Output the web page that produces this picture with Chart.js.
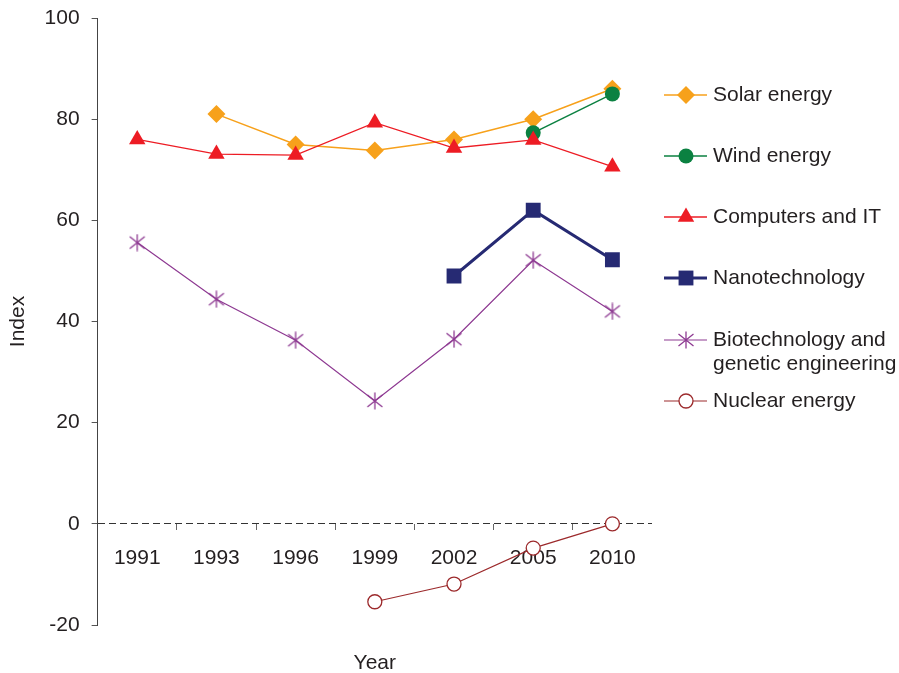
<!DOCTYPE html>
<html>
<head>
<meta charset="utf-8">
<script src="https://cdn.jsdelivr.net/npm/chart.js@4.4.1/dist/chart.umd.min.js"></script>
<style>
  html, body { margin: 0; padding: 0; background: #ffffff; }
  #wrap { width: 899px; height: 673px; }
</style>
</head>
<body>
<div id="wrap"><canvas id="c" width="899" height="673"></canvas></div>
<script>
// ---- data ----
const categories = ['1991', '1993', '1996', '1999', '2002', '2005', '2010'];
const solarEnergy = [null, 81.0, 75.0, 73.8, 76.0, 80.0, 86.0];
const windEnergy = [null, null, null, null, null, 77.3, 85.0];
const computersIT = [76.0, 73.1, 72.9, 79.3, 74.3, 75.9, 70.6];
const nanotechnology = [null, null, null, null, 49.0, 62.0, 52.2];
const biotechnology = [55.6, 44.4, 36.3, 24.3, 36.5, 52.1, 42.0];
const nuclearEnergy = [null, null, null, -15.4, -11.9, -4.8, 0.0];
const seriesNames = ['Solar energy', 'Wind energy', 'Computers and IT', 'Nanotechnology',
  'Biotechnology and\ngenetic engineering', 'Nuclear energy'];
const yTicks = [-20, 0, 20, 40, 60, 80, 100];

const FONT = "'Liberation Sans', Arial, sans-serif";
const FS = 21;
const TXT = '#231F20';

// asterisk marker (vertical stroke + two diagonals)
function makeAsterisk(color) {
  const c = document.createElement('canvas');
  c.width = 18; c.height = 18;
  const g = c.getContext('2d');
  g.strokeStyle = color; g.lineWidth = 1.3;
  g.beginPath();
  g.moveTo(9, 0.5); g.lineTo(9, 17.5);
  g.moveTo(1.5, 3); g.lineTo(16.5, 15);
  g.moveTo(16.5, 3); g.lineTo(1.5, 15);
  g.stroke();
  return c;
}
const bioColor = '#8E3A92';
const asterisk = makeAsterisk(bioColor);

const datasets = [
  { label: seriesNames[0], data: solarEnergy, borderColor: '#F7A11B', backgroundColor: '#F7A11B',
    borderWidth: 1.5, pointStyle: 'rectRot', pointRadius: 9, pointBorderWidth: 0, order: 6 },
  { label: seriesNames[1], data: windEnergy, borderColor: '#0B8141', backgroundColor: '#0B8141',
    borderWidth: 1.5, pointStyle: 'circle', pointRadius: 7.5, pointBorderWidth: 0, order: 5 },
  { label: seriesNames[2], data: computersIT, borderColor: '#ED1C24', backgroundColor: '#ED1C24',
    borderWidth: 1.3, pointStyle: 'triangle', pointRadius: 9.5, pointBorderWidth: 0, order: 4 },
  { label: seriesNames[3], data: nanotechnology, borderColor: '#262A73', backgroundColor: '#262A73',
    borderWidth: 3, pointStyle: 'rect', pointRadius: 10.5, pointBorderWidth: 0, order: 3 },
  { label: seriesNames[4], data: biotechnology, borderColor: bioColor, backgroundColor: bioColor,
    borderWidth: 1.2, pointStyle: asterisk, pointRadius: 9, pointBorderWidth: 0, order: 2 },
  { label: seriesNames[5], data: nuclearEnergy, borderColor: '#9C2A2C', backgroundColor: '#ffffff',
    borderWidth: 1.2, pointStyle: 'circle', pointRadius: 7, pointBorderWidth: 1.3, order: 1 }
];

// custom side legend (line + marker + text)
const sideLegend = {
  id: 'sideLegend',
  afterDraw(chart) {
    const ctx = chart.ctx;
    const ds = chart.data.datasets;
    const x0 = 664, x1 = 707, xm = 686, xt = 713;
    const rowY = [95, 156, 217, 278, 340, 401];
    ctx.save();
    ds.forEach((d, i) => {
      const y = rowY[i];
      ctx.strokeStyle = d.borderColor;
      ctx.lineWidth = d.borderWidth;
      ctx.beginPath(); ctx.moveTo(x0, y); ctx.lineTo(x1, y); ctx.stroke();
      ctx.fillStyle = d.backgroundColor;
      ctx.strokeStyle = d.borderColor;
      ctx.lineWidth = d.pointBorderWidth || 0;
      Chart.helpers.drawPoint(ctx, { pointStyle: d.pointStyle, radius: d.pointRadius,
        borderWidth: d.pointBorderWidth || 0, rotation: 0 }, xm, y);
      ctx.fillStyle = TXT;
      ctx.font = FS + 'px ' + FONT;
      ctx.textBaseline = 'middle';
      ctx.textAlign = 'left';
      d.label.split('\n').forEach((ln, k) => ctx.fillText(ln, xt, y + k * 24));
    });
    ctx.restore();
  }
};

new Chart(document.getElementById('c'), {
  type: 'line',
  data: { labels: categories, datasets },
  options: {
    responsive: false,
    animation: false,
    devicePixelRatio: 1,
    layout: { padding: { left: 0, top: 18, right: 247, bottom: 0 } },
    plugins: { legend: { display: false }, tooltip: { enabled: false } },
    scales: {
      x: {
        type: 'category', offset: true, position: { y: 0 },
        grid: {
          display: true, drawOnChartArea: false, drawTicks: true, tickLength: 6, offset: true,
          color: '#666',
          tickColor: (c) => (c.type === 'tick' && c.index > 0 ? '#666' : 'rgba(0,0,0,0)')
        },
        border: { display: false },
        ticks: { font: { family: FONT, size: FS }, color: TXT, padding: 16, maxRotation: 0, autoSkip: false }
      },
      x2: {
        type: 'category', position: 'bottom', offset: true,
        grid: { display: false, drawTicks: false, tickLength: 0 }, border: { display: false }, ticks: { display: false },
        title: { display: true, text: 'Year', font: { family: FONT, size: FS }, color: TXT, padding: { top: 25.8, bottom: -3 } }
      },
      y: {
        min: -20, max: 100,
        afterBuildTicks(scale) { scale.ticks = yTicks.map(v => ({ value: v })); },
        grid: {
          drawOnChartArea: true, drawTicks: true, tickLength: 6,
          color: (c) => (c.tick && c.tick.value === 0 ? '#333333' : 'rgba(0,0,0,0)'),
          tickColor: '#555', lineWidth: 1
        },
        border: { display: true, color: '#444', width: 1, dash: [7, 4] },
        ticks: { font: { family: FONT, size: FS, lineHeight: 0.5 }, color: TXT, padding: 12 },
        title: { display: true, text: 'Index', font: { family: FONT, size: FS }, color: TXT, padding: { top: 5.4, bottom: 2 } }
      }
    }
  },
  plugins: [sideLegend]
});
</script>
</body>
</html>
